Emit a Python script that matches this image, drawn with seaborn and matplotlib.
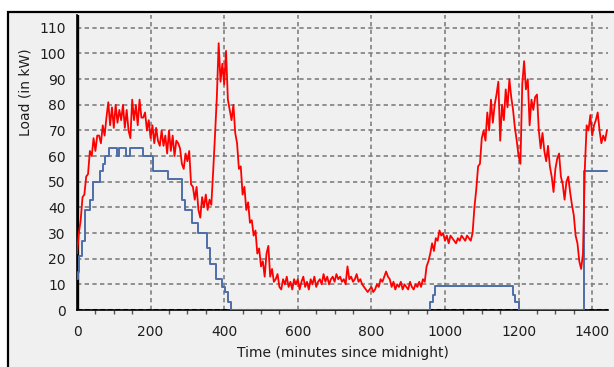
import numpy as np
import pandas as pd
import matplotlib
matplotlib.use("Agg")
import matplotlib.pyplot as plt
import seaborn as sns
from matplotlib.patches import Rectangle

# load readings every 5 minutes (kW)
RED_STEP = 5
red_load = [
    22, 30, 35, 44, 45, 52, 53, 62, 60, 67, 62, 68,
    68, 65, 72, 68, 75, 81, 72, 79, 71, 80, 73, 78,
    74, 80, 71, 78, 70, 67, 82, 74, 80, 72, 82, 75,
    75, 77, 70, 74, 67, 72, 65, 71, 66, 64, 70, 64,
    68, 61, 70, 62, 68, 60, 66, 65, 63, 57, 55, 61,
    58, 62, 49, 48, 43, 48, 39, 36, 44, 40, 45, 39,
    43, 41, 54, 68, 83, 104, 89, 96, 88, 101, 82, 78,
    74, 80, 69, 65, 55, 56, 45, 48, 39, 42, 34, 35,
    29, 31, 22, 24, 17, 19, 13, 22, 25, 13, 16, 11,
    12, 14, 9, 8, 12, 10, 13, 9, 11, 8, 12, 10,
    12, 8, 11, 13, 9, 11, 8, 12, 10, 13, 9, 11,
    12, 10, 14, 11, 13, 10, 12, 13, 11, 14, 12, 13,
    11, 12, 10, 17, 12, 13, 11, 12, 14, 11, 12, 10,
    9, 8, 7, 8, 9, 7, 8, 10, 9, 12, 11, 13,
    15, 13, 12, 9, 11, 8, 10, 9, 11, 8, 10, 9,
    8, 11, 9, 8, 10, 9, 11, 9, 12, 11, 17, 19,
    22, 26, 23, 28, 27, 31, 29, 30, 27, 29, 26, 29,
    28, 27, 26, 28, 27, 29, 28, 27, 29, 28, 27, 30,
    40, 47, 56, 57, 67, 70, 66, 77, 70, 82, 73, 80,
    84, 89, 66, 80, 74, 86, 79, 90, 83, 78, 71, 66,
    60, 57, 88, 97, 86, 90, 72, 82, 78, 83, 84, 70,
    63, 69, 62, 58, 64, 56, 52, 46, 55, 59, 61, 52,
    49, 43, 50, 52, 46, 41, 37, 29, 26, 19, 16, 22,
    55, 72, 70, 76, 68, 72, 74, 77, 70, 65, 68, 66, 70,
]
red_time = [i * RED_STEP for i in range(len(red_load))]

# stepped series: change points (minute, kW)
blue_time = [0, 3, 6, 13, 22, 35, 43, 62, 72, 76, 88, 108, 115, 133, 144,
             179, 207, 248, 285, 294, 312, 330, 354, 362, 378, 393, 402,
             410, 418, 960, 967, 973, 1184, 1190, 1202, 1379, 1440]
blue_load = [12, 15, 21, 27, 39, 43, 50, 54, 57, 60, 63, 60, 63, 60, 63,
             60, 54, 51, 43, 39, 34, 30, 24, 18, 12, 9, 7,
             3, 0, 3, 6, 9.5, 6, 3, 0, 54, 54]

x_ticks = list(range(0, 1401, 200))
y_ticks = list(range(0, 111, 10))

red_df = pd.DataFrame({"time": red_time, "load": red_load})
blue_df = pd.DataFrame({"time": blue_time, "load": blue_load})

BG = "#f0f0f0"
GRID = "#808080"
TXT = "#1e1e1e"

sns.set_theme(style="white")
plt.rcParams["font.family"] = ["DejaVu Sans"]

fig = plt.figure(figsize=(6.14, 3.67), dpi=100)
fig.patch.set_facecolor("white")
frame = Rectangle((8 / 614, -0.1), 1.1, (367 - 12) / 367 + 0.1,
                  transform=fig.transFigure, facecolor=BG,
                  edgecolor="black", linewidth=1.6, zorder=-5)
fig.patches.append(frame)

ax = fig.add_axes([77 / 614, 1 - 310 / 367, 531 / 614, 295 / 367])
ax.set_zorder(2)
ax.set_facecolor(BG)

for xv in x_ticks[1:]:
    ax.axvline(xv, color=GRID, lw=1.2, ls=(0, (2.6, 2.0)), zorder=1)
for yv in y_ticks[1:]:
    ax.axhline(yv, color=GRID, lw=1.2, ls=(0, (2.6, 2.0)), zorder=1)
ax.axhline(0, color="black", lw=2.2, ls=(0, (1.5, 1.0)), zorder=2)
ax.axvline(0, color="black", lw=2.4, zorder=2)

sns.lineplot(data=blue_df, x="time", y="load", ax=ax, color="#4e6eaa",
             lw=1.4, drawstyle="steps-post", zorder=3)
sns.lineplot(data=red_df, x="time", y="load", ax=ax, color="#ff0000",
             lw=1.3, zorder=4)

ax.set_xlim(0, 1443)
ax.set_ylim(0, 115)
ax.set_xticks(x_ticks)
ax.set_xticks(list(range(0, 1441, 50)), minor=True)
ax.set_yticks(y_ticks)

for side in ["top", "right"]:
    ax.spines[side].set_visible(False)
for side in ["left", "bottom"]:
    ax.spines[side].set_color("black")
    ax.spines[side].set_linewidth(1.2)

ax.tick_params(axis="both", which="major", direction="out", length=4,
               width=1, color="#555555", labelsize=10, labelcolor=TXT)
ax.tick_params(axis="x", which="major", pad=7)
ax.tick_params(axis="y", which="major", pad=4)
ax.tick_params(axis="x", which="minor", direction="out", length=3,
               width=1, color="#555555", bottom=True)

ax.set_xlabel("Time (minutes since midnight)", fontsize=10, color=TXT,
              labelpad=5)
ax.set_ylabel("")
fig.text(26 / 614, 1 - 92 / 367, "Load (in kW)", rotation=90,
         ha="center", va="center", fontsize=10, color=TXT)

fig.savefig("out.png", dpi=100)
plt.close(fig)
